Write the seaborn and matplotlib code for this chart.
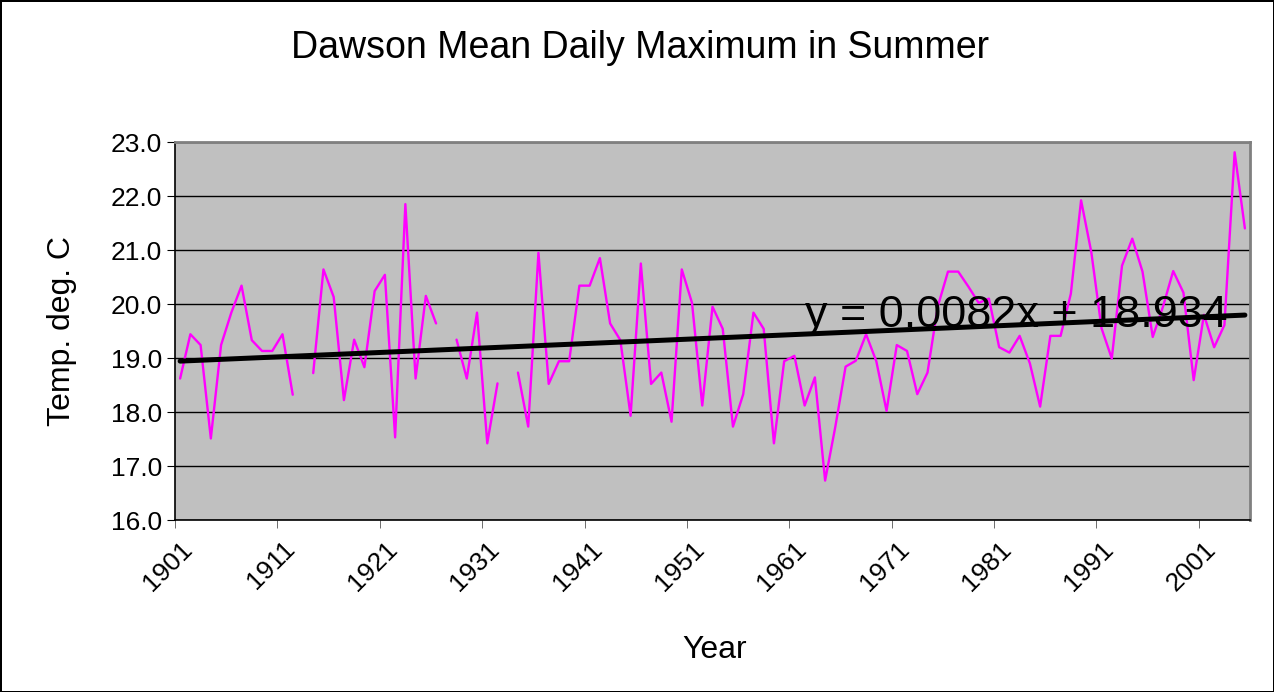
import numpy as np
import pandas as pd
import seaborn as sns
import matplotlib.pyplot as plt
from matplotlib.ticker import FormatStrFormatter, MultipleLocator

# values (NaN = year with no data)
years = list(range(1901, 2006))
temps = [
    18.62, 19.44, 19.24, 17.51, 19.24, 19.84, 20.34, 19.33, 19.13, 19.13,  # 1901-1910
    19.44, 18.32, np.nan, 18.72, 20.64, 20.13, 18.22, 19.34, 18.83, 20.24,  # 1911-1920
    20.54, 17.53, 21.85, 18.62, 20.15, 19.64, np.nan, 19.34, 18.62, 19.84,  # 1921-1930
    17.42, 18.53, np.nan, 18.73, 17.73, 20.95, 18.52, 18.94, 18.94, 20.34,  # 1931-1940
    20.34, 20.85, 19.64, 19.33, 17.93, 20.75, 18.52, 18.73, 17.82, 20.64,  # 1941-1950
    20.02, 18.12, 19.95, 19.54, 17.73, 18.33, 19.84, 19.54, 17.42, 18.94,  # 1951-1960
    19.04, 18.12, 18.64, 16.73, 17.73, 18.84, 18.95, 19.44, 18.94, 18.02,  # 1961-1970
    19.24, 19.13, 18.33, 18.73, 19.95, 20.60, 20.60, 20.32, 20.02, 20.10,  # 1971-1980
    19.20, 19.10, 19.41, 18.90, 18.10, 19.41, 19.41, 20.19, 21.92, 20.96,  # 1981-1990
    19.55, 18.99, 20.71, 21.21, 20.60, 19.39, 19.95, 20.61, 20.21, 18.59,  # 1991-2000
    19.80, 19.20, 19.61, 22.81, 21.40,                                      # 2001-2005
]
slope = 0.0082
intercept = 18.934
x_labels = list(range(1901, 2006, 10))

df = pd.DataFrame({"year": years, "temp": temps})
# split into runs so the gaps stay open
df["segment"] = df["temp"].isna().cumsum()
df = df.dropna()

trend = pd.DataFrame({"year": [years[0], years[-1]]})
trend["temp"] = slope * (trend["year"] - 1900) + intercept

sns.set_style("white")
plt.rcParams["font.family"] = ["Liberation Sans", "DejaVu Sans"]
plt.rcParams["text.color"] = "black"
plt.rcParams["xtick.color"] = "black"
plt.rcParams["ytick.color"] = "black"

fig = plt.figure(figsize=(12.74, 6.92), dpi=100)
fig.patch.set_edgecolor("black")
fig.patch.set_linewidth(2)
ax = fig.add_axes([175 / 1274, 1 - 520 / 692, 1075 / 1274, 378 / 692])
ax.set_facecolor("#C0C0C0")

sns.lineplot(data=df, x="year", y="temp", units="segment", estimator=None,
             color="#FF00FF", linewidth=1.7, ax=ax)
sns.lineplot(data=trend, x="year", y="temp", color="black", linewidth=3.6, ax=ax)

ax.text(1982.7, 19.78, f"y = {slope}x + {intercept}", fontsize=32.3,
        ha="center", va="center", color="black")

ax.set_xlim(1900.5, 2005.5)
ax.set_ylim(16, 23)
ax.yaxis.set_major_locator(MultipleLocator(1))
ax.yaxis.set_major_formatter(FormatStrFormatter("%.1f"))
ax.grid(axis="y", color="black", linewidth=1)
ax.grid(axis="x", visible=False)

ax.set_xticks(x_labels)
ax.set_xticklabels([str(y) for y in x_labels], rotation=45, ha="right",
                   rotation_mode="anchor", fontsize=19)
ax.set_xticks([y - 0.5 for y in x_labels], minor=True)
ax.tick_params(axis="x", which="major", length=0, pad=12)
ax.tick_params(axis="x", which="minor", length=6, color="#555555", bottom=True)
ax.tick_params(axis="y", length=6, color="black", labelsize=19, left=True)

for s in ["left", "bottom"]:
    ax.spines[s].set_color("black")
    ax.spines[s].set_linewidth(1.2)
for s in ["top", "right"]:
    ax.spines[s].set_color("#808080")
    ax.spines[s].set_linewidth(2)

ax.set_xlabel("")
ax.set_ylabel("")
fig.text(715 / 1274, 1 - 650 / 692, "Year", fontsize=23, ha="center", va="center")
fig.text(62 / 1274, 1 - 331 / 692, "Temp. deg. C", fontsize=23, rotation=90,
         ha="center", va="center")
fig.text(640 / 1274, 1 - 48 / 692, "Dawson Mean Daily Maximum in Summer",
         fontsize=27, ha="center", va="center")

fig.savefig("out.png", dpi=100, edgecolor=fig.get_edgecolor())
